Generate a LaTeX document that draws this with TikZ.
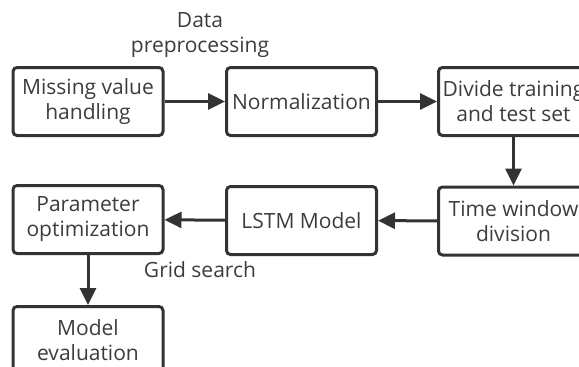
\documentclass[tikz,border=0pt]{standalone}
\usepackage{fontspec}
\setmainfont{Open Sans}
\usetikzlibrary{arrows.meta}
\definecolor{ink}{HTML}{333333}
\definecolor{txt}{HTML}{3C3C3C}
\begin{document}
\begin{tikzpicture}[x=1pt,y=-1pt,
  box/.style={draw=ink,line width=3pt,rounded corners=4pt,minimum width=150pt,minimum height=68pt,inner sep=0pt,align=center,text=txt,font=\fontsize{21}{25}\selectfont},
  lbl/.style={align=center,text=txt,font=\fontsize{21}{25}\selectfont},
  conn/.style={draw=ink,line width=3pt,-{Triangle[length=17pt,width=16pt]}}]
\useasboundingbox (0,0) rectangle (579,367);
\begin{scope}
\clip (0,0) rectangle (579,367);
\node[box] (b1) at (88,101.5) {Missing value\\handling};
\node[box] (b2) at (301.5,101.5) {Normalization};
\node[box] (b3) at (513.5,101.5) {Divide training\\and test set};
\node[box] (b4) at (513.5,221) {Time window\\division};
\node[box] (b5) at (301.5,220.5) {LSTM Model};
\node[box] (b6) at (88,219.5) {Parameter\\optimization};
\node[box] (b7) at (88,340.5) {Model\\evaluation};
\node[lbl] (dp) at (200,35) {Data\\preprocessing};
\node[lbl] (gs) at (200,270) {Grid search};
\draw[conn] (b1) -- (b2);
\draw[conn] (b2) -- (b3);
\draw[conn] (b3) -- (b4);
\draw[conn] (b4) -- (b5);
\draw[conn] (b5) -- (b6);
\draw[conn] (b6) -- (b7);
\end{scope}
\end{tikzpicture}
\end{document}
